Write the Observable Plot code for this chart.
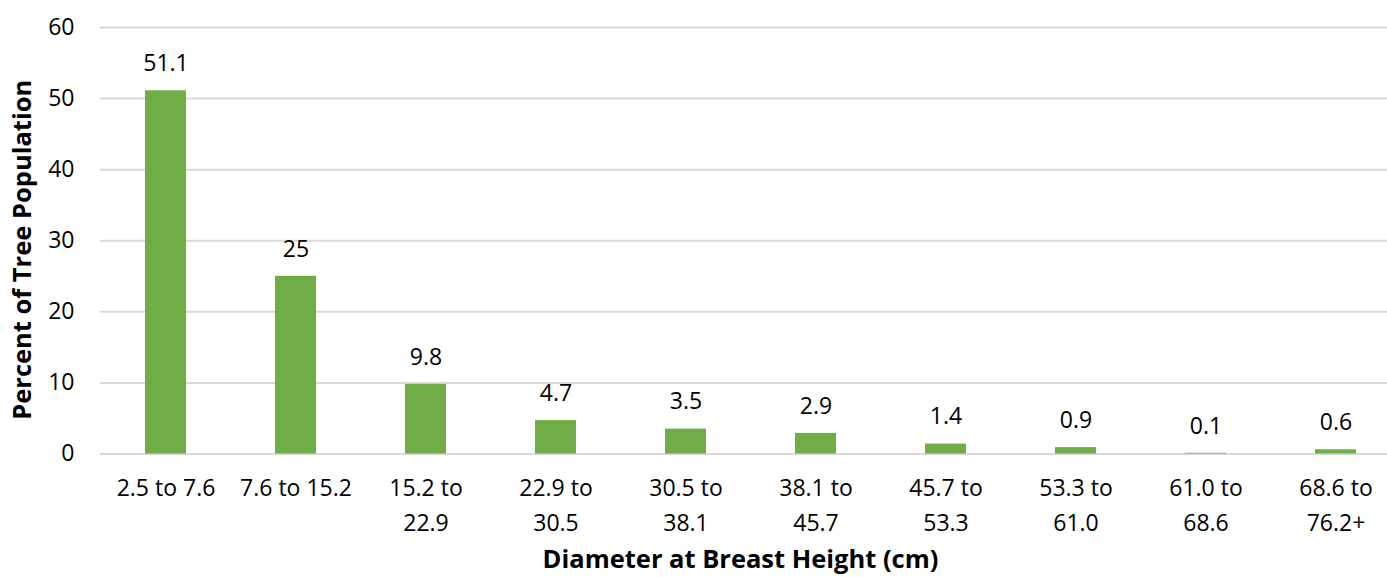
<!DOCTYPE html>
<html><head><meta charset="utf-8">
<script src="https://cdn.jsdelivr.net/npm/d3@7"></script>
<script src="https://cdn.jsdelivr.net/npm/@observablehq/plot@0.6"></script>
<style>body{margin:0;background:#fff;}</style>
</head><body><div id="chart"></div>
<script>
const categories = ["2.5 to 7.6","7.6 to 15.2","15.2 to\n22.9","22.9 to\n30.5","30.5 to\n38.1","38.1 to\n45.7","45.7 to\n53.3","53.3 to\n61.0","61.0 to\n68.6","68.6 to\n76.2+"];
const values = [51.1,25,9.8,4.7,3.5,2.9,1.4,0.9,0.1,0.6];
const valueLabels = ["51.1","25","9.8","4.7","3.5","2.9","1.4","0.9","0.1","0.6"];
const yTicks = [0,10,20,30,40,50,60];
const xTitle = "Diameter at Breast Height (cm)";
const yTitle = "Percent of Tree Population";

const data = categories.map((c,i)=>({category:c, value:values[i], label:valueLabels[i]}));
const FONT = "'Open Sans', sans-serif";
const FS = 23;
const chart = Plot.plot({
  width: 1387, height: 577,
  marginLeft: 100, marginRight: 0, marginTop: 27, marginBottom: 123.5,
  style: {fontFamily: FONT, fontSize: FS + "px", color: "#000", background: "#fff"},
  x: {domain: categories, range: [100, 1400], paddingInner: 0.685, paddingOuter: 0.3425},
  y: {domain: [0, 60]},
  marks: [
    Plot.ruleY(yTicks, {stroke: "#d9d9d9", strokeWidth: 2}),
    Plot.barY(data, {x: "category", y: "value", fill: "#70AD47"}),
    Plot.text(data, {x: "category", y: "value", text: "label", dy: -27, fontSize: FS, fill: "#000"}),
    Plot.axisY(yTicks, {tickSize: 0, tickPadding: 26, fontSize: FS, label: null, fill: "#000"}),
    Plot.axisX({tickSize: 0, tickPadding: 18, fontSize: FS, lineHeight: 1.49, label: null, fill: "#000"}),
    Plot.text([yTitle], {frameAnchor: "left", textAnchor: "middle", lineAnchor: "middle", rotate: -90, dx: -78, dy: 9, fontSize: 25.5, fontWeight: "bold", fill: "#000"}),
    Plot.text([xTitle], {frameAnchor: "bottom", textAnchor: "middle", lineAnchor: "middle", dx: -3.5, dy: 106, fontSize: 25.5, fontWeight: "bold", fill: "#000"})
  ]
});
document.getElementById("chart").appendChild(chart);
</script>
</body></html>
